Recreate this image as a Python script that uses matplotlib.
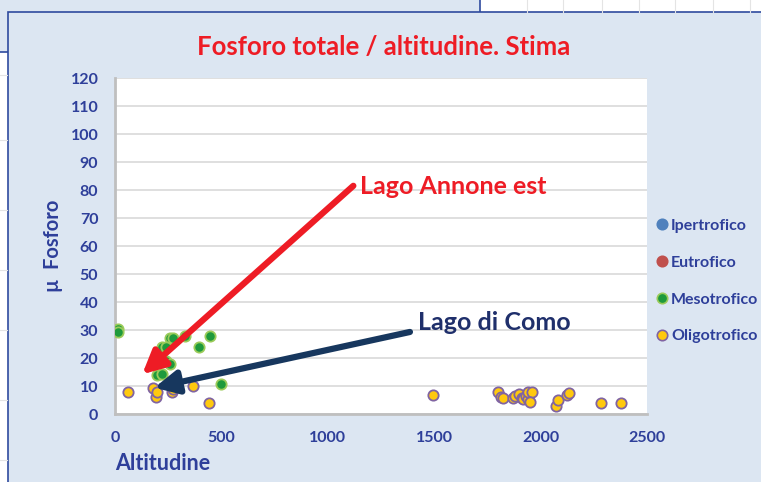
import matplotlib
matplotlib.use("Agg")
import matplotlib.pyplot as plt
from matplotlib.lines import Line2D
from matplotlib.patches import Rectangle

plt.rcParams['font.family'] = ['Lato', 'DejaVu Sans']

# Altitudine (m) / fosforo totale (ug/l) per classe trofica
meso_alt = [13, 16, 258, 274, 329, 448, 396, 219, 240, 238, 258, 196, 222, 498]
meso_p = [30.4, 29.4, 27.3, 27.0, 28.0, 27.7, 24.0, 24.0, 24.0, 19.0, 18.0, 14.0, 14.2, 10.8]

oligo_alt = [63, 180, 191, 196, 266, 274, 368, 442, 1493,
             1801, 1812, 1822, 1869, 1880, 1900, 1911, 1919, 1930, 1940,
             1943, 1958, 1950, 2072, 2083, 2126, 2135, 2282, 2376]
oligo_p = [7.7, 9.4, 6.2, 7.7, 7.7, 8.9, 9.9, 3.9, 6.8,
           8.0, 6.2, 5.8, 5.8, 6.5, 7.0, 5.8, 5.4, 6.5, 5.5,
           8.0, 8.0, 4.4, 2.9, 5.0, 6.8, 7.4, 3.8, 3.8]

classes = ['Ipertrofico', 'Eutrofico', 'Mesotrofico', 'Oligotrofico']
class_face = ['#4F81BD', '#C0504D', '#1E9A3C', '#FFC90E']
class_edge = ['#4F81BD', '#C0504D', '#9BCB5A', '#8064A2']

# frecce di annotazione: (coda, punta) in coordinate dati
annone_tail, annone_tip = (1120, 81.5), (128, 14.2)
como_tail, como_tip = (1386, 29.3), (185, 9.4)

navy = '#2E3F9A'
red = '#EE1C25'
panel = '#DCE6F2'

fig = plt.figure(figsize=(7.61, 4.82), dpi=100)
fig.patch.set_facecolor('white')

# sfondo: foglio di lavoro e riquadri dei grafici
bg = fig.add_axes([0, 0, 1, 1], zorder=-10)
bg.set_xlim(0, 761)
bg.set_ylim(482, 0)
bg.axis('off')
for gx in [527, 563, 602, 639, 675, 713, 750]:
    bg.plot([gx, gx], [0, 12], color='#E4E4E4', lw=0.8)
for gy in [75, 140, 210, 270, 330, 400, 460]:
    bg.plot([0, 7], [gy, gy], color='#E4E4E4', lw=0.8)
bg.add_patch(Rectangle((-2, -2), 482, 54, facecolor=panel, edgecolor='#2F4A9E', lw=1.2))
bg.add_patch(Rectangle((8, 12), 800, 500, facecolor=panel, edgecolor='#2F4A9E', lw=1.2))

ax = fig.add_axes([115 / 761, 68 / 482, 532 / 761, 336 / 482])
ax.set_facecolor('white')
ax.set_xlim(0, 2500)
ax.set_ylim(0, 120)
ax.set_xticks(range(0, 2501, 500))
ax.set_yticks(range(0, 121, 10))
ax.yaxis.grid(True, color='#D9D9D9', lw=1.2)
ax.set_axisbelow(True)
for s in ['top', 'right']:
    ax.spines[s].set_visible(False)
for s in ['left', 'bottom']:
    ax.spines[s].set_color('#BFBFBF')
    ax.spines[s].set_linewidth(2)
ax.tick_params(length=0, labelsize=11.5, labelcolor=navy)
ax.tick_params(axis='y', pad=12)
ax.tick_params(axis='x', pad=12)
for lab in ax.get_xticklabels() + ax.get_yticklabels():
    lab.set_fontweight('bold')

ax.scatter(meso_alt, meso_p, s=55, c=class_face[2], edgecolors=class_edge[2], linewidths=1.3, zorder=3)
ax.scatter(oligo_alt, oligo_p, s=55, c=class_face[3], edgecolors=class_edge[3], linewidths=1.3, zorder=3)

ax.annotate('', xy=annone_tip, xytext=annone_tail,
            arrowprops=dict(arrowstyle='-|>,head_length=1.4,head_width=0.7', color=red, lw=4.5,
                            shrinkA=0, shrinkB=0), zorder=5, annotation_clip=False)
ax.annotate('', xy=como_tip, xytext=como_tail,
            arrowprops=dict(arrowstyle='-|>,head_length=1.4,head_width=0.7', color='#17375E', lw=4.5,
                            shrinkA=0, shrinkB=0), zorder=5, annotation_clip=False)

fig.text(360 / 761, 1 - 187 / 482, 'Lago Annone est', color=red, fontsize=18, fontweight='bold', va='center')
fig.text(418 / 761, 1 - 323 / 482, 'Lago di Como', color='#1F2F6B', fontsize=18, fontweight='bold', va='center')

fig.text(384 / 761, 1 - 47 / 482, 'Fosforo totale / altitudine. Stima', color=red, fontsize=18.5,
         fontweight='bold', ha='center', va='center')
fig.text(115 / 761, 1 - 464 / 482, 'Altitudine', color=navy, fontsize=15.5, fontweight='bold', va='center')
fig.text(53 / 761, 1 - 246 / 482, 'µ  Fosforo', color=navy, fontsize=14.5, fontweight='bold',
         rotation=90, ha='center', va='center')

handles = [Line2D([], [], marker='o', ls='', markersize=7.5, markerfacecolor=f, markeredgecolor=e,
                  markeredgewidth=1.2) for f, e in zip(class_face, class_edge)]
leg = fig.legend(handles, classes, loc='center left', bbox_to_anchor=(648 / 761, 1 - 281 / 482),
                 frameon=False, fontsize=11.5, labelspacing=1.42, handletextpad=0.05,
                 handlelength=1.0, borderaxespad=0)
for t in leg.get_texts():
    t.set_color(navy)
    t.set_fontweight('bold')

fig.savefig('out.png', dpi=100, facecolor=fig.get_facecolor())
